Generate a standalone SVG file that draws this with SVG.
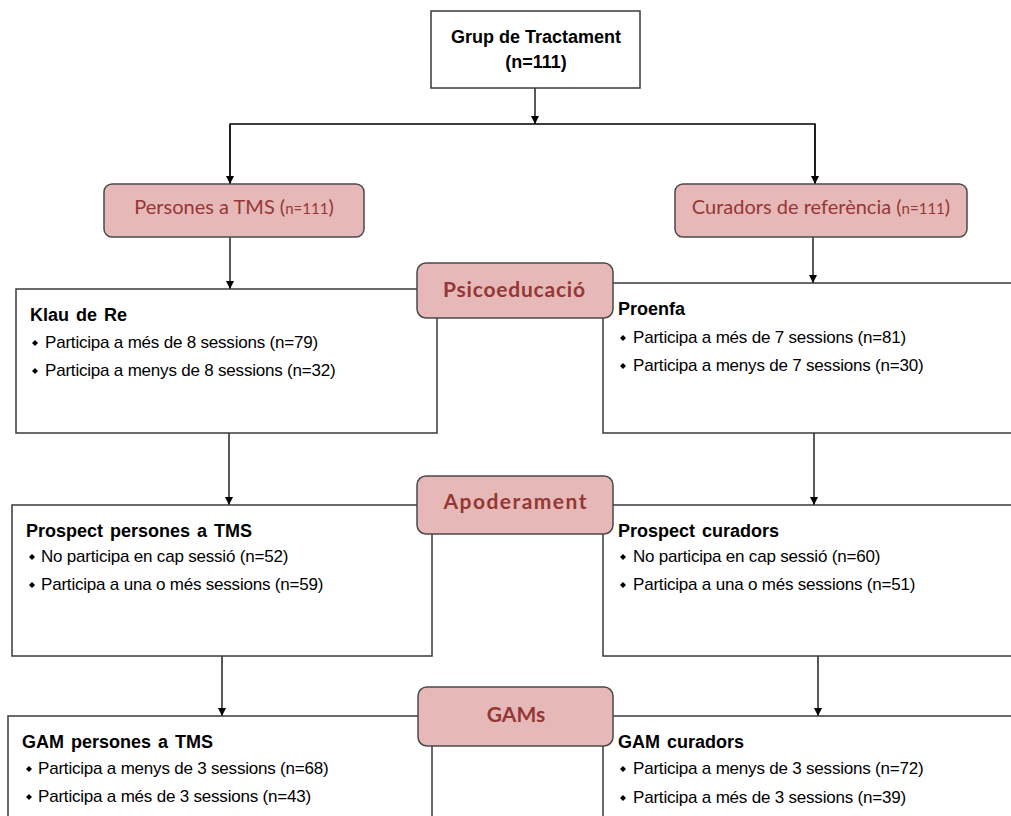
<svg xmlns="http://www.w3.org/2000/svg" width="1011" height="816" viewBox="0 0 1011 816">
<defs>
<marker id="ah" viewBox="0 0 10 10" refX="10" refY="5" markerWidth="8" markerHeight="8" markerUnits="userSpaceOnUse" orient="auto">
<path d="M0,0 L10,5 L0,10 z" fill="#000"/>
</marker>
<style>
.wbox{fill:#fff;stroke:#3a3a3a;stroke-width:1.5}
.pbox{fill:#e6b9b8;stroke:#4a4a4a;stroke-width:1.5}
.ptxt{font-family:Lato,"Open Sans",sans-serif;fill:#953735;font-size:20px;text-anchor:middle}
.pb{font-weight:bold;font-size:21px}
.hd{font-family:"Liberation Sans",Arial,sans-serif;font-weight:bold;font-size:18px;fill:#000;word-spacing:2px}
.top{font-family:"Liberation Sans",Arial,sans-serif;font-weight:bold;font-size:18px;fill:#000;text-anchor:middle}
.it{font-family:"Liberation Sans",Arial,sans-serif;font-size:17px;fill:#000;letter-spacing:-0.2px}
.con{stroke:#000;stroke-width:1.3;fill:none}
.bul{fill:#000}
</style>
</defs>
<rect width="1011" height="816" fill="#fff"/>

<g id="connectors">
<line class="con" x1="535" y1="88" x2="535" y2="124" marker-end="url(#ah)"/>
<polyline class="con" points="230,184 230,124 815,124 815,184"/>
<line class="con" x1="230" y1="124" x2="230" y2="184" marker-end="url(#ah)"/>
<line class="con" x1="815" y1="124" x2="815" y2="184" marker-end="url(#ah)"/>
<line class="con" x1="230" y1="237" x2="230" y2="289" marker-end="url(#ah)"/>
<line class="con" x1="813" y1="237" x2="813" y2="283" marker-end="url(#ah)"/>
<line class="con" x1="229" y1="433" x2="229" y2="505" marker-end="url(#ah)"/>
<line class="con" x1="814" y1="433" x2="814" y2="505" marker-end="url(#ah)"/>
<line class="con" x1="222" y1="656" x2="222" y2="716" marker-end="url(#ah)"/>
<line class="con" x1="818" y1="656" x2="818" y2="716" marker-end="url(#ah)"/>
</g>

<g id="grup">
<rect class="wbox" x="431" y="11" width="209" height="77"/>
<text class="top" x="536" y="43">Grup de Tractament</text>
<text class="top" x="536" y="68">(n=111)</text>
</g>

<g id="persones">
<rect class="pbox" x="104" y="184" width="260" height="53" rx="8"/>
<text class="ptxt" x="234" y="214">Persones a TMS (<tspan font-size="15">n=111</tspan>)</text>
</g>

<g id="curadors">
<rect class="pbox" x="675" y="184" width="292" height="53" rx="8"/>
<text class="ptxt" x="821" y="214">Curadors de referència (<tspan font-size="15">n=111</tspan>)</text>
</g>

<g id="klau">
<rect class="wbox" x="16" y="289" width="421" height="144"/>
<text class="hd" x="30" y="321">Klau de Re</text>
<path class="bul" d="M32,343 l3,-3 l3,3 l-3,3 z"/>
<text class="it" x="45" y="348">Participa a més de 8 sessions (n=79)</text>
<path class="bul" d="M32,371 l3,-3 l3,3 l-3,3 z"/>
<text class="it" x="45" y="376">Participa a menys de 8 sessions (n=32)</text>
</g>

<g id="proenfa">
<rect class="wbox" x="603" y="283" width="420" height="150"/>
<text class="hd" x="618" y="315">Proenfa</text>
<path class="bul" d="M620,338 l3,-3 l3,3 l-3,3 z"/>
<text class="it" x="633" y="343">Participa a més de 7 sessions (n=81)</text>
<path class="bul" d="M620,366 l3,-3 l3,3 l-3,3 z"/>
<text class="it" x="633" y="371">Participa a menys de 7 sessions (n=30)</text>
</g>

<g id="psicoeducacio">
<rect class="pbox" x="417" y="263" width="196" height="55" rx="9"/>
<text class="ptxt pb" x="514" y="297" textLength="142" lengthAdjust="spacing">Psicoeducació</text>
</g>

<g id="prospect-persones">
<rect class="wbox" x="12" y="505" width="420" height="151"/>
<text class="hd" x="26" y="537">Prospect persones a TMS</text>
<path class="bul" d="M29,557 l3,-3 l3,3 l-3,3 z"/>
<text class="it" x="41" y="562">No participa en cap sessió (n=52)</text>
<path class="bul" d="M29,585 l3,-3 l3,3 l-3,3 z"/>
<text class="it" x="41" y="590">Participa a una o més sessions (n=59)</text>
</g>

<g id="prospect-curadors">
<rect class="wbox" x="603" y="505" width="420" height="151"/>
<text class="hd" x="618" y="537">Prospect curadors</text>
<path class="bul" d="M620,557 l3,-3 l3,3 l-3,3 z"/>
<text class="it" x="633" y="562">No participa en cap sessió (n=60)</text>
<path class="bul" d="M620,585 l3,-3 l3,3 l-3,3 z"/>
<text class="it" x="633" y="590">Participa a una o més sessions (n=51)</text>
</g>

<g id="apoderament">
<rect class="pbox" x="417" y="476" width="196" height="58" rx="9"/>
<text class="ptxt pb" x="515" y="509" textLength="143" lengthAdjust="spacing">Apoderament</text>
</g>

<g id="gam-persones">
<rect class="wbox" x="8" y="716" width="424" height="120"/>
<text class="hd" x="22" y="748">GAM persones a TMS</text>
<path class="bul" d="M26,769 l3,-3 l3,3 l-3,3 z"/>
<text class="it" x="38" y="774">Participa a menys de 3 sessions (n=68)</text>
<path class="bul" d="M26,797 l3,-3 l3,3 l-3,3 z"/>
<text class="it" x="38" y="802">Participa a més de 3 sessions (n=43)</text>
</g>

<g id="gam-curadors">
<rect class="wbox" x="603" y="716" width="420" height="120"/>
<text class="hd" x="618" y="748">GAM curadors</text>
<path class="bul" d="M620,769 l3,-3 l3,3 l-3,3 z"/>
<text class="it" x="633" y="774">Participa a menys de 3 sessions (n=72)</text>
<path class="bul" d="M620,798 l3,-3 l3,3 l-3,3 z"/>
<text class="it" x="633" y="803">Participa a més de 3 sessions (n=39)</text>
</g>

<g id="gams">
<rect class="pbox" x="418" y="687" width="195" height="59" rx="9"/>
<text class="ptxt pb" x="516" y="722">GAMs</text>
</g>
</svg>
